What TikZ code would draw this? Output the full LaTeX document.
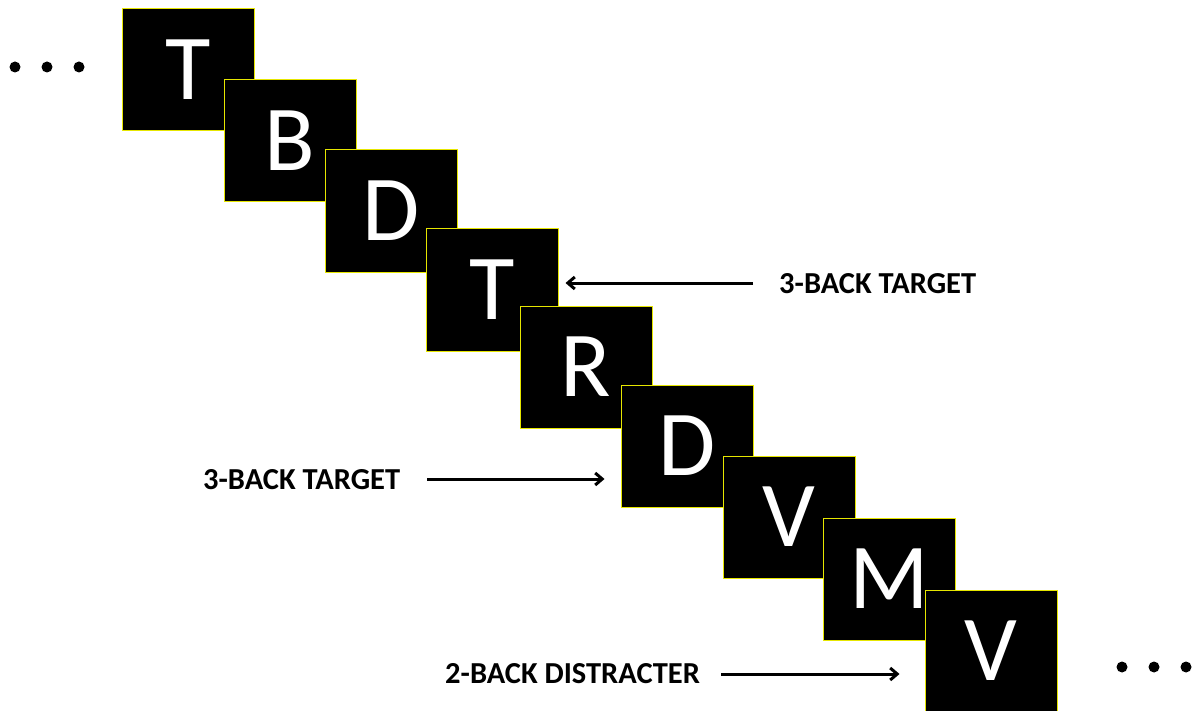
\documentclass[tikz,border=0pt]{standalone}
\usepackage{fontspec}
\setmainfont{Carlito}
\usetikzlibrary{arrows.meta}
\definecolor{frameyellow}{RGB}{230,230,0}
\newcommand{\cardletter}[1]{\raisebox{-2.5pt}{#1}}
\tikzset{
  card/.style={draw=frameyellow, fill=black, line width=1pt, minimum width=132pt, minimum height=122pt, inner sep=0pt,
    text=white, font=\fontsize{93}{93}\selectfont},
  lab/.style={inner sep=0pt, font=\bfseries\fontsize{30.5}{30.5}\selectfont, text=black},
  arr/.style={line width=3pt, -{Straight Barb[length=7pt,width=12pt,line width=3pt]}},
  dot/.style={circle, fill=black, inner sep=0pt, minimum size=11pt}
}
\begin{document}
\begin{tikzpicture}[x=1pt,y=-1pt]
\useasboundingbox (0,0) rectangle (1193,711);
\node[card] (s1) at (188,70)  {\cardletter{T}};
\node[card] (s2) at (290,141) {\cardletter{B}};
\node[card] (s3) at (391,211) {\cardletter{D}};
\node[card] (s4) at (492,290) {\cardletter{T}};
\node[card] (s5) at (586,367) {\cardletter{R}};
\node[card] (s6) at (687,446) {\cardletter{D}};
\node[card] (s7) at (789,517) {\cardletter{V}};
\node[card] (s8) at (889,579) {\cardletter{M}};
\node[card] (s9) at (991,651) {\cardletter{V}};
% labels
\node[lab, anchor=west] (l1) at (779,284) {3-BACK TARGET};
\node[lab, anchor=west] (l2) at (203,480) {3-BACK TARGET};
\node[lab, anchor=west] (l3) at (445,674) {2-BACK DISTRACTER};
% arrows
\coordinate (a1s) at (753,283);
\coordinate (a2s) at (427,479);
\coordinate (a3s) at (721,674);
\draw[arr, shorten >=7pt] (a1s) -- (s4.east |- a1s);
\draw[arr, shorten >=16pt] (a2s) -- (s6.west |- a2s);
\draw[arr, shorten >=25pt] (a3s) -- (s9.west |- a3s);
% dots
\node[dot] (d1) at (15,67) {};
\node[dot] (d2) at (47,67) {};
\node[dot] (d3) at (79,67) {};
\node[dot] (d4) at (1122,667) {};
\node[dot] (d5) at (1154,667) {};
\node[dot] (d6) at (1186,667) {};
\end{tikzpicture}
\end{document}
